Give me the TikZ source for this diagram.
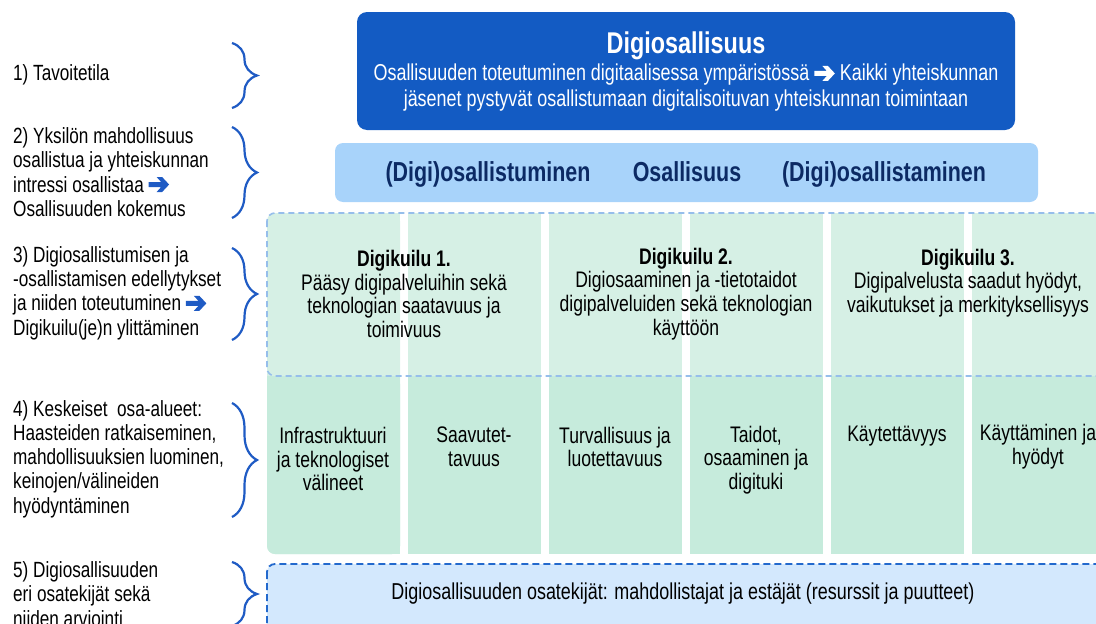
\documentclass[tikz,border=0pt]{standalone}
\usepackage{fontspec}
\setmainfont[FakeStretch=0.78]{Liberation Sans}
\usetikzlibrary{decorations.pathreplacing}
\definecolor{deepblue}{RGB}{19,91,195}
\definecolor{skyblue}{RGB}{168,211,250}
\definecolor{navytext}{RGB}{12,42,100}
\definecolor{palegreen}{RGB}{214,240,229}
\definecolor{mintgreen}{RGB}{198,235,220}
\definecolor{dashblue}{RGB}{150,190,235}
\definecolor{iceblue}{RGB}{211,232,253}
\definecolor{edgeblue}{RGB}{35,105,205}
\definecolor{braceblue}{RGB}{31,91,196}
% heavy arrow used inside the texts
\newcommand{\harr}[1]{\tikz[x=1pt, y=1pt, baseline=0pt]\fill[#1] (0,5) -- (12.5,5) -- (8,0) -- (13.5,0) -- (20.5,7.5) -- (13.5,15) -- (8,15) -- (12.5,10) -- (0,10) -- cycle;}
\begin{document}
\begin{tikzpicture}[x=1pt, y=-1pt,
    lbl/.style={anchor=west, align=left, inner sep=0pt, font=\fontsize{22}{24.3}\selectfont},
    brc/.style={draw=braceblue, line width=2.2pt, decorate, decoration={brace, amplitude=25pt}},
    cell/.style={align=center, inner sep=0pt, font=\fontsize{22.5}{23.8}\selectfont},
    head/.style={anchor=base, inner sep=0pt, text=navytext, font=\fontsize{27.5}{30}\selectfont\bfseries}]
    \useasboundingbox (0,0) rectangle (1096,624);

    % Levels on the left
    \node[lbl] (tav) at (13,75) {1) Tavoitetila};
    \node[lbl] (yks) at (13,172) {2) Yksilön mahdollisuus\\osallistua ja yhteiskunnan\\intressi osallistaa \harr{braceblue}\\Osallisuuden kokemus};
    \node[lbl] (edel) at (13,293) {3) Digiosallistumisen ja\\-osallistamisen edellytykset\\ja niiden toteutuminen \harr{braceblue}\\Digikuilu(je)n ylittäminen};
    \node[lbl] (kesk) at (13,459) {4) Keskeiset\ \ osa-alueet:\\Haasteiden ratkaiseminen,\\mahdollisuuksien luominen,\\keinojen/välineiden\\hyödyntäminen};
    \node[lbl] (osat) at (13,594) {5) Digiosallisuuden\\eri osatekijät sekä\\niiden arviointi};

    % Braces
    \draw[brc] (232,43) -- (232,108);
    \draw[brc] (232,127) -- (232,218);
    \draw[brc] (232,248) -- (232,340);
    \draw[brc] (232,403) -- (232,517);
    \draw[brc] (232,562) -- (232,626);

    % Goal box
    \fill[deepblue, rounded corners=10pt] (357,12) rectangle (1015,130);
    \node[inner sep=0pt, text=white, font=\fontsize{30}{32}\selectfont\bfseries] (digi) at (686,46) {Digiosallisuus};
    \node[align=center, inner sep=0pt, text=white, font=\fontsize{23}{26}\selectfont] (toteu) at (686,88) {Osallisuuden toteutuminen digitaalisessa ympäristössä \harr{white} Kaikki yhteiskunnan\\jäsenet pystyvät osallistumaan digitalisoituvan yhteiskunnan toimintaan};

    % Participation box
    \fill[skyblue, rounded corners=8pt] (335,143) rectangle (1038,202);
    \node[head] (osum) at (488,181) {(Digi)osallistuminen};
    \node[head] (osal) at (687,181) {Osallisuus};
    \node[head] (osam) at (884,181) {(Digi)osallistaminen};

    % Columns
    \fill[palegreen, rounded corners=8pt] (267,213) rectangle (400,554);
    \fill[palegreen] (290,213) rectangle (400,376);
    \fill[palegreen] (267,236) rectangle (400,376);
    \fill[mintgreen, rounded corners=8pt] (267,376) rectangle (400,554);
    \fill[mintgreen] (267,376) rectangle (400,540);
    \fill[mintgreen] (290,376) rectangle (400,554);
    \fill[palegreen] (408,213) rectangle (541,376);
    \fill[mintgreen] (408,376) rectangle (541,554);
    \fill[palegreen] (549,213) rectangle (682,376);
    \fill[mintgreen] (549,376) rectangle (682,554);
    \fill[palegreen] (690,213) rectangle (823,376);
    \fill[mintgreen] (690,376) rectangle (823,554);
    \fill[palegreen] (831,213) rectangle (964,376);
    \fill[mintgreen] (831,376) rectangle (964,554);
    \fill[palegreen] (972,213) rectangle (1105,376);
    \fill[mintgreen] (972,376) rectangle (1105,554);
    \draw[dashblue, line width=1.6pt, dash pattern=on 6pt off 4pt, rounded corners=8pt] (267,213) rectangle (1112,376);

    % Digital divides
    \node[cell] (kuilu1) at (404,294) {\textbf{Digikuilu 1.}\\Pääsy digipalveluihin sekä\\teknologian saatavuus ja\\toimivuus};
    \node[cell] (kuilu2) at (686,294) {\textbf{Digikuilu 2.}\\Digiosaaminen ja -tietotaidot\\digipalveluiden sekä teknologian\\käyttöön};
    \node[cell] (kuilu3) at (968,283) {\textbf{Digikuilu 3.}\\Digipalvelusta saadut hyödyt,\\vaikutukset ja merkityksellisyys};

    % Sub-areas
    \node[cell] (infra) at (333,459) {Infrastruktuuri\\ja teknologiset\\välineet};
    \node[cell] (saav) at (474,447) {Saavutet-\\tavuus};
    \node[cell] (turva) at (615,447) {Turvallisuus ja\\luotettavuus};
    \node[cell] (taidot) at (756,460) {Taidot,\\osaaminen ja\\digituki};
    \node[cell] (kaytt) at (897,436) {Käytettävyys};
    \node[cell] (hyod) at (1038,447) {Käyttäminen ja\\hyödyt};

    % Components
    \draw[edgeblue, fill=iceblue, line width=1.8pt, dash pattern=on 7pt off 4pt, rounded corners=8pt] (267,564) rectangle (1112,640);
    \node[cell, font=\fontsize{23}{24}\selectfont] (osatek) at (683,594) {Digiosallisuuden osatekijät: mahdollistajat ja estäjät (resurssit ja puutteet)};
\end{tikzpicture}
\end{document}
